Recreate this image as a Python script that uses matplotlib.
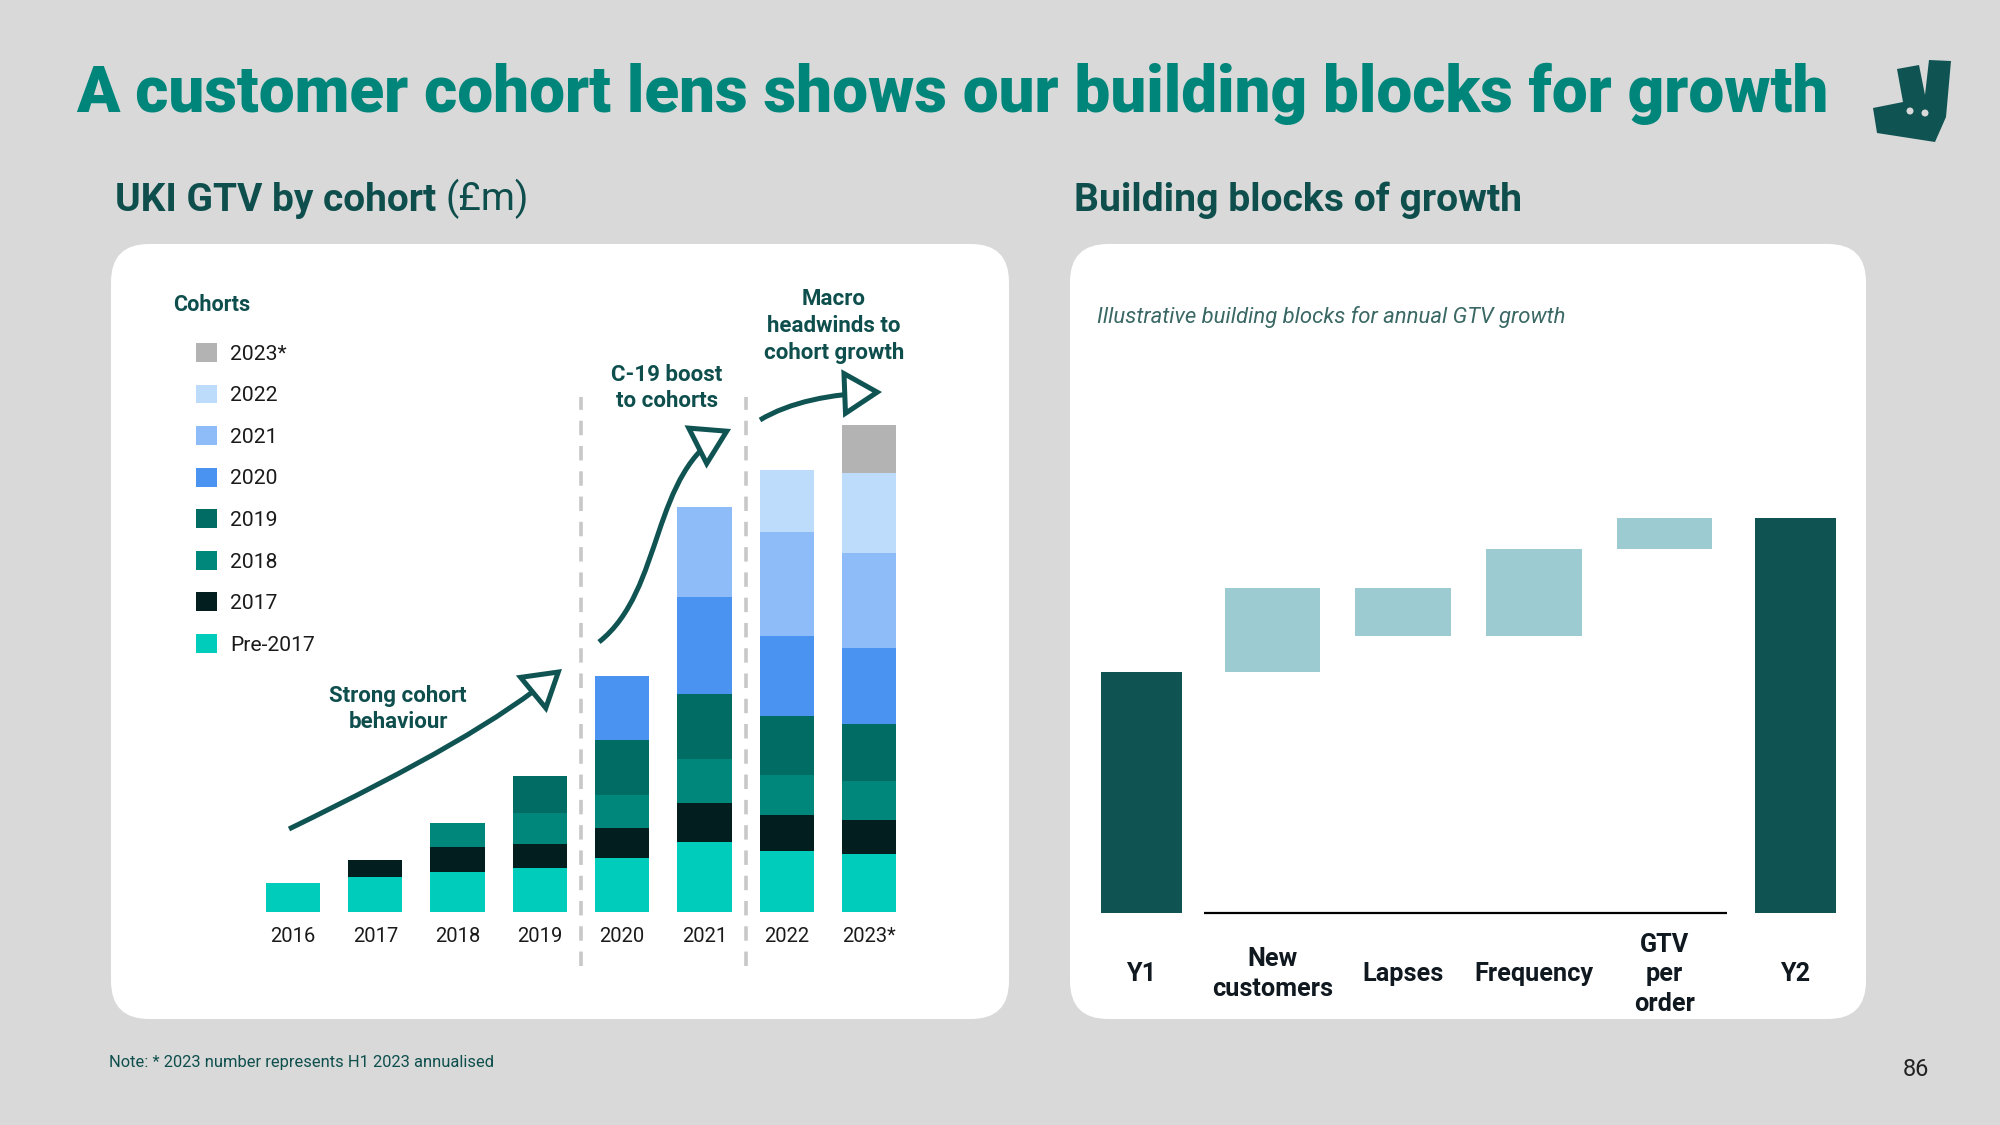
import matplotlib.pyplot as plt
from matplotlib.patches import FancyBboxPatch, FancyArrowPatch, Polygon, Circle
from matplotlib.path import Path

plt.rcParams['font.family'] = ['Roboto', 'DejaVu Sans']

# Données - cohortes (GTV UKI, unités)
years = ['2016', '2017', '2018', '2019', '2020', '2021', '2022', '2023*']
cohorts = ['Pre-2017', '2017', '2018', '2019', '2020', '2021', '2022', '2023*']
pre_2017 = [59, 70, 80, 88, 108, 140, 122, 116]
c_2017 = [0, 35, 50, 48, 60, 80, 73, 68]
c_2018 = [0, 0, 48, 62, 68, 87, 80, 80]
c_2019 = [0, 0, 0, 75, 109, 132, 118, 113]
c_2020 = [0, 0, 0, 0, 129, 195, 161, 153]
c_2021 = [0, 0, 0, 0, 0, 181, 209, 191]
c_2022 = [0, 0, 0, 0, 0, 0, 126, 162]
c_2023 = [0, 0, 0, 0, 0, 0, 0, 96]
cohort_colors = ['#00CCBC', '#021E1E', '#00877B', '#016C64',
                 '#4A93F1', '#8DBCF8', '#BDDCFB', '#B3B3B3']

# Données - waterfall illustratif
steps = ['Y1', 'New\ncustomers', 'Lapses', 'Frequency', 'GTV\nper\norder', 'Y2']
y1_value = 100
deltas = [35, -20, 36, 13]

teal_title = '#00857A'
teal_dark = '#0E4F4D'
bar_dark = '#0F5352'
block_light = '#9CCBD1'

fig = plt.figure(figsize=(20, 11.25), dpi=100)
fig.patch.set_facecolor('#D9D9D9')

# axe de fond en pixels
bg = fig.add_axes([0, 0, 1, 1])
bg.set_xlim(0, 2000)
bg.set_ylim(1125, 0)
bg.axis('off')

for x0, x1 in [(111, 1009), (1070, 1866)]:
    bg.add_patch(FancyBboxPatch((x0, 244), x1 - x0, 1019 - 244,
                                boxstyle='round,pad=0,rounding_size=38',
                                fc='white', ec='none'))

bg.text(76, 112, 'A customer cohort lens shows our building blocks for growth',
        fontsize=45.9, fontweight='black', color=teal_title, va='baseline')
t = bg.text(115, 211, 'UKI GTV by cohort ', fontsize=28, fontweight='bold',
            color=teal_dark, va='baseline')
bg.annotate('(£m)', xycoords=t, xy=(1, 0), va='bottom', fontsize=28,
            color=teal_dark)
bg.text(1074, 211, 'Building blocks of growth', fontsize=28.2, fontweight='bold',
        color=teal_dark, va='baseline')
bg.text(1097, 317, 'Illustrative building blocks for annual GTV growth',
        fontsize=15.9, style='italic', fontweight='normal', color='#3A6864', va='center')
bg.text(109, 1063, 'Note: * 2023 number represents H1 2023 annualised',
        fontsize=11.9, color=teal_dark, va='center')
bg.text(1916, 1069, '86', fontsize=17, color='#222222',
        ha='center', va='center')

# logo
logo = [(1873, 108), (1903, 102), (1897, 69), (1919, 65), (1925, 95), (1929, 60),
        (1951, 61), (1946, 117), (1935, 142), (1877, 133)]
bg.add_patch(Polygon(logo, closed=True, fc=bar_dark, ec='none'))
bg.add_patch(Circle((1910, 111), 3.5, fc='#D9D9D9', ec='none'))
bg.add_patch(Circle((1925, 113), 3.5, fc='#D9D9D9', ec='none'))

# ---- graphique de gauche : cohortes ----
pitch = 82.3
ax = fig.add_axes([150 / 2000, 1 - 912 / 1125, 770 / 2000, (912 - 265) / 1125])
ax.set_xlim((150 - 293) / pitch, (920 - 293) / pitch)
ax.set_ylim(0, (912 - 265) * 2.01)
ax.patch.set_alpha(0)
x = list(range(len(years)))
bottom = [0] * len(years)
handles = []
for serie, col, lab in zip([pre_2017, c_2017, c_2018, c_2019, c_2020, c_2021, c_2022, c_2023],
                           cohort_colors, cohorts):
    b = ax.bar(x, serie, bottom=bottom, width=0.66, color=col, label=lab)
    handles.append(b)
    bottom = [a + v for a, v in zip(bottom, serie)]

ax.vlines([3.5, 5.5], -108, 1035, colors='#C8C8C8', linestyles=(0, (4, 3)),
          linewidth=2.6, clip_on=False)
ax.set_xticks(x)
ax.set_xticklabels(years, fontsize=14.5, color='#1A1A1A')
ax.tick_params(axis='x', length=0, pad=10.5)
ax.set_yticks([])
for s in ax.spines.values():
    s.set_visible(False)

leg = ax.legend(handles[::-1], cohorts[::-1], loc='upper left',
                bbox_to_anchor=(196, 343), bbox_transform=bg.transData,
                frameon=False, fontsize=15.2, handlelength=1.0, handleheight=1.0,
                handletextpad=0.6, labelspacing=0.99, borderpad=0, borderaxespad=0)
for txt in leg.get_texts():
    txt.set_color('#1A1A1A')
bg.text(173, 305, 'Cohorts', fontsize=15.6, fontweight='bold', color=teal_dark, va='center')

ann = dict(fontsize=16, fontweight='bold', color=teal_dark, ha='center',
           va='center', linespacing=1.28)
bg.text(398, 709, 'Strong cohort\nbehaviour', **ann)
bg.text(667, 388, 'C-19 boost\nto cohorts', **ann)
bg.text(834, 326, 'Macro\nheadwinds to\ncohort growth', **ann)

arrow_kw = dict(arrowstyle='-|>,head_length=0.9,head_width=0.55', mutation_scale=26,
                lw=3.6, ec=bar_dark, fc='white', joinstyle='miter', capstyle='butt')
p1 = Path([(289, 829), (420, 765), (500, 720), (562, 669)],
          [Path.MOVETO, Path.CURVE4, Path.CURVE4, Path.CURVE4])
p2 = Path([(599, 642), (665, 590), (650, 470), (731, 429)],
          [Path.MOVETO, Path.CURVE4, Path.CURVE4, Path.CURVE4])
p3 = Path([(760, 420), (790, 402), (830, 394), (882, 392)],
          [Path.MOVETO, Path.CURVE4, Path.CURVE4, Path.CURVE4])
for p in [p1, p2, p3]:
    bg.add_patch(FancyArrowPatch(path=p, **arrow_kw))

# ---- graphique de droite : waterfall ----
pitch_r = 130.8
axr = fig.add_axes([1080 / 2000, 1 - 913 / 1125, 780 / 2000, (913 - 400) / 1125])
axr.set_xlim((1080 - 1141.5) / pitch_r, (1860 - 1141.5) / pitch_r)
axr.set_ylim(0, (913 - 400) / 2.41)
axr.patch.set_alpha(0)

level = y1_value
bottoms, heights = [], []
for d in deltas:
    bottoms.append(min(level, level + d))
    heights.append(abs(d))
    level += d
y2_value = level

axr.bar([0, 5], [y1_value, y2_value], width=0.62, color=bar_dark)
axr.bar([1, 2, 3, 4], heights, bottom=bottoms, width=0.73, color=block_light)
axr.plot([0.48, 4.48], [0, 0], color='black', lw=1.6, solid_capstyle='butt', clip_on=False)

axr.set_xticks(range(len(steps)))
axr.set_xticklabels(steps, fontsize=18.2, fontweight='bold', color='#101820',
                    linespacing=1.29)
for lab in axr.get_xticklabels():
    lab.set_va('center')
axr.tick_params(axis='x', length=0, pad=44)
axr.set_yticks([])
for s in axr.spines.values():
    s.set_visible(False)

plt.savefig('out.png', dpi=100, facecolor=fig.get_facecolor())
